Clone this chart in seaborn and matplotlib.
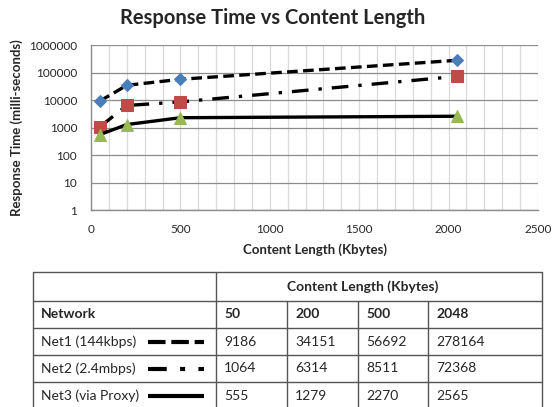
import seaborn as sns
import matplotlib.pyplot as plt
import matplotlib.ticker as mticker
import pandas as pd

# data
sizes = [50, 200, 500, 2048]
net_names = ["Net1 (144kbps)", "Net2 (2.4mbps)", "Net3 (via Proxy)"]
net1 = [9186, 34151, 56692, 278164]
net2 = [1064, 6314, 8511, 72368]
net3 = [555, 1279, 2270, 2565]
series = [net1, net2, net3]

marker_colors = ["#4a7ebb", "#be4b48", "#98b954"]
markers = ["D", "s", "^"]
marker_sizes = [6, 9, 8]
line_styles = [(0, (3.2, 1.6)), (0, (5, 3, 1, 3)), "-"]
legend_styles = [(0, (4.2, 1.4)), (0, (4.5, 3.2, 1.2, 3.2)), "-"]

sns.set_style("white")
plt.rcParams["font.family"] = ["Lato", "DejaVu Sans"]

fig = plt.figure(figsize=(5.52, 4.07), dpi=100)
ax = fig.add_axes([91 / 552, 1 - 210 / 407, 447 / 552, 165 / 407])

for vals, mc, mk, ms, ls in zip(series, marker_colors, markers, marker_sizes, line_styles):
    df = pd.DataFrame({"size": sizes, "time": vals})
    sns.lineplot(data=df, x="size", y="time", ax=ax, color="black", linewidth=2.4,
                 linestyle=ls, marker=mk, markersize=ms, markerfacecolor=mc,
                 markeredgecolor=mc, zorder=3)

ax.set_yscale("log")
ax.set_xlim(0, 2500)
ax.set_ylim(1, 1e6)
ax.xaxis.set_major_locator(mticker.MultipleLocator(500))
ax.xaxis.set_minor_locator(mticker.MultipleLocator(100))
ax.yaxis.set_major_locator(mticker.LogLocator(base=10, numticks=10))
ax.yaxis.set_minor_locator(mticker.NullLocator())
ax.yaxis.set_major_formatter(mticker.FuncFormatter(lambda v, p: f"{int(round(v))}"))
ax.grid(which="minor", axis="x", color="#d9d9d9", linewidth=0.9)
ax.grid(which="major", axis="x", color="#d9d9d9", linewidth=0.9)
ax.grid(which="major", axis="y", color="#8c8c8c", linewidth=0.9)
ax.set_axisbelow(True)
for s in ["top", "right"]:
    ax.spines[s].set_visible(False)
for s in ["left", "bottom"]:
    ax.spines[s].set_color("#8c8c8c")
    ax.spines[s].set_linewidth(1)
ax.tick_params(which="major", direction="out", length=4, color="#8c8c8c",
               labelsize=8.5, pad=6)
ax.tick_params(which="minor", length=0)

ax.set_xlabel("Content Length (Kbytes)", fontsize=9.5, fontweight="bold", labelpad=6)
ax.set_ylabel("Response Time (milli-seconds)", fontsize=9.5, fontweight="bold", labelpad=4)
fig.text(0.493, 0.955, "Response Time vs Content Length", ha="center", va="center",
         fontsize=14.5, fontweight="bold")

# table below the chart
tab = fig.add_axes([0, 0, 1, 1])
tab.set_xlim(0, 552)
tab.set_ylim(407, 0)
tab.axis("off")

col_x = [33, 216, 287, 358, 428, 542]
row_y = [272, 301, 328, 355, 382, 410]
lc = "#555555"
for y in row_y[:-1]:
    tab.plot([col_x[0], col_x[-1]], [y, y], color=lc, lw=1)
for i, x in enumerate(col_x):
    y0 = row_y[0] if i in (0, 1, 5) else row_y[1]
    tab.plot([x, x], [y0, row_y[-1]], color=lc, lw=1)

fs = 10
tab.text(363, (row_y[0] + row_y[1]) / 2, "Content Length (Kbytes)", ha="center",
         va="center", fontsize=fs, fontweight="bold")
tab.text(col_x[0] + 8, (row_y[1] + row_y[2]) / 2, "Network", ha="left", va="center",
         fontsize=fs, fontweight="bold")
for j, s in enumerate(sizes):
    tab.text(col_x[j + 1] + 8, (row_y[1] + row_y[2]) / 2, str(s), ha="left",
             va="center", fontsize=fs, fontweight="bold")

for i, (name, vals, ls) in enumerate(zip(net_names, series, legend_styles)):
    yc = (row_y[i + 2] + row_y[i + 3]) / 2
    tab.text(col_x[0] + 8, yc, name, ha="left", va="center", fontsize=fs)
    tab.plot([148, 204], [yc, yc], color="black", lw=3, linestyle=ls,
             solid_capstyle="butt", dash_capstyle="butt")
    for j, v in enumerate(vals):
        tab.text(col_x[j + 1] + 8, yc, str(v), ha="left", va="center", fontsize=fs)

fig.savefig("out.png", dpi=100)
plt.close(fig)
